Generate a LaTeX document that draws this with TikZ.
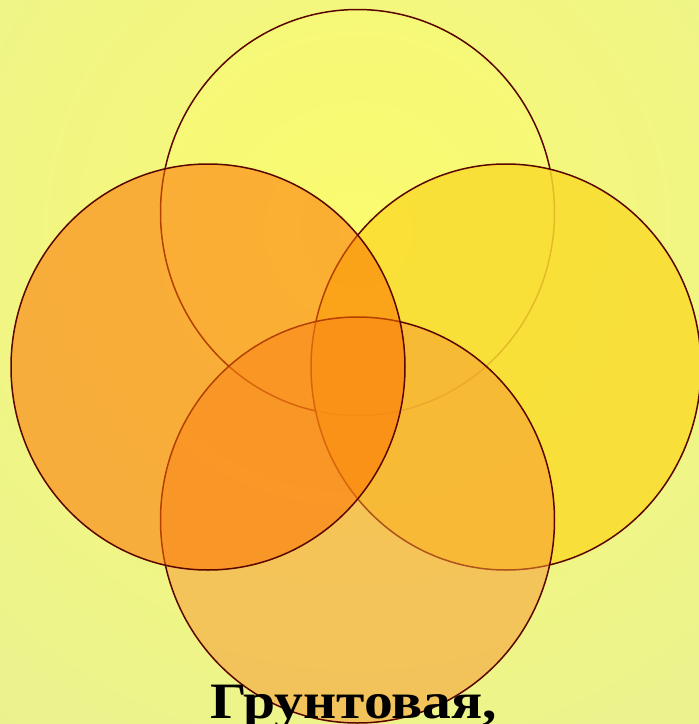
\documentclass[tikz,border=0pt]{standalone}
\usepackage{fontspec}
\newfontfamily\rusfont{Liberation Serif}
\definecolor{bgin}{HTML}{FAFA74}
\definecolor{bgout}{HTML}{E0EE9E}
\definecolor{edgec}{HTML}{5A0500}
\definecolor{topc}{HTML}{FFFF60}
\definecolor{rightc}{HTML}{FADC2E}
\definecolor{bottomc}{HTML}{F79933}
\definecolor{leftc}{HTML}{FD7200}
\tikzset{
  ring/.style={draw=edgec, line width=1.5pt},
}
\begin{document}
\begin{tikzpicture}[x=1pt,y=-1pt]
\useasboundingbox (0,0) rectangle (699,724);
\clip (0,0) rectangle (699,724);
\shade[inner color=bgin, outer color=bgout] (357,230) circle [radius=960pt];
\path[ring, fill=topc, fill opacity=0.2] (357.5,212.5) ellipse [x radius=197pt, y radius=203pt];
\path[ring, fill=rightc, fill opacity=0.85] (506,367) ellipse [x radius=195pt, y radius=203pt];
\path[ring, fill=bottomc, fill opacity=0.53] (357.5,520) ellipse [x radius=197pt, y radius=203pt];
\path[ring, fill=leftc, fill opacity=0.55] (208,367) ellipse [x radius=197pt, y radius=203pt];
\node[anchor=base, inner sep=0pt, xscale=1.13, font=\rusfont\bfseries\fontsize{51}{60}\selectfont] (label) at (354,718) {Грунтовая,};
\end{tikzpicture}
\end{document}
